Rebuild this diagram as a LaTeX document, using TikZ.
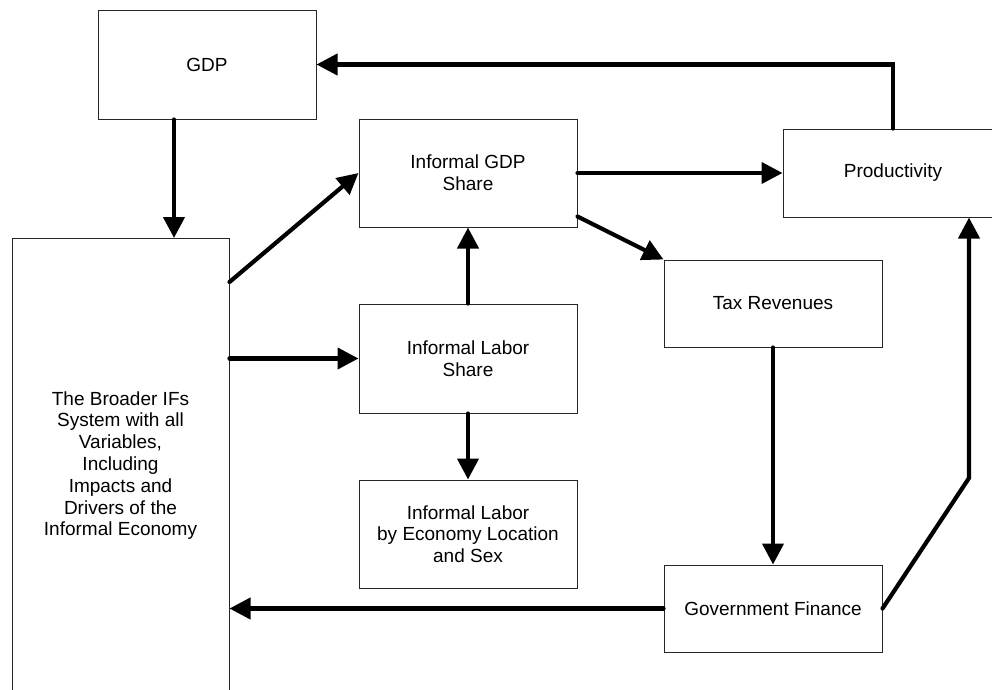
\documentclass[tikz,border=0pt]{standalone}
\usepackage{fontspec}
\setmainfont{Liberation Sans}
\usetikzlibrary{arrows.meta,positioning,calc}

\begin{document}
\begin{tikzpicture}[
  x=1pt, y=-1pt,
  >={Triangle[length=21pt,width=21pt]},
  block/.style={
    rectangle, draw=black!85, line width=1pt, fill=white,
    minimum width=218pt, minimum height=#1, align=center, inner sep=0pt,
    font=\fontsize{19}{21.8}\selectfont
  },
  block/.default=109pt,
  flow/.style={->, line width=4.2pt, line cap=round},
]
  % Page frame
  \fill[white] (0,0) rectangle (992,689);
  \useasboundingbox (0,0) rectangle (992,689);

  % Left column: GDP and the broader system
  \node[block] (gdp) at (207,64.5) {GDP};
  \node[block=454pt, minimum width=217pt, anchor=north] (broader) at (120.5,238)
    {The Broader IFs\\System with all\\Variables,\\Including\\Impacts and\\Drivers of the\\Informal Economy};

  % Middle column: informal shares
  \node[block=108pt] (gdpshare) at (468,173) {Informal GDP\\Share};
  \node[block] (laborshare) [below=76pt of gdpshare] {Informal Labor\\Share};
  \node[block=108pt] (laborloc) [below=66pt of laborshare] {Informal Labor\\by Economy Location\\and Sex};

  % Right column: productivity and public finance
  \node[block=88pt, minimum width=220pt] (prod) at (893,173) {Productivity};
  \node[block=87pt] (tax) at (773,303.5) {Tax Revenues};
  \node[block=87pt] (govfin) [below=217pt of tax] {Government Finance};

  \coordinate (gdpout) at ([xshift=-33pt]gdp.south);
  \coordinate (bend) at (969,478);

  % Arrows: feedback to GDP
  \draw[flow] (prod.north) |- (gdp.east);
  \draw[flow] (gdpout) -- (gdpout |- broader.north);

  % Arrows: broader system -> informal shares
  \draw[flow] ([yshift=-44pt]broader.north east) -- (gdpshare.west);
  \draw[flow] (laborshare.west -| broader.east) -- (laborshare.west);
  \draw[flow] (laborshare) -- (gdpshare);
  \draw[flow] (laborshare) -- (laborloc);

  % Arrows: informal GDP share -> right column
  \draw[flow] (gdpshare) -- (prod);
  \draw[flow] ([yshift=11pt]gdpshare.south east) -- (tax.north west);
  \draw[flow] (tax) -- (govfin);

  % Arrows: government finance out
  \draw[flow] (govfin.west) -- (govfin.west -| broader.east);
  \draw[flow] (govfin.east) -- (bend) -- (bend |- prod.south);
\end{tikzpicture}
\end{document}
